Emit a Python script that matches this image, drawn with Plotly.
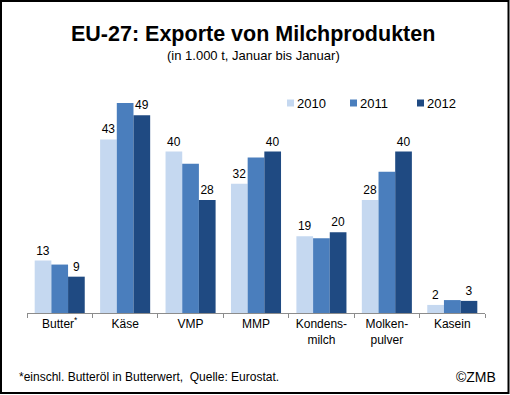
import plotly.graph_objects as go

categories = ["Butter<sup>*</sup>", "Käse", "VMP", "MMP", "Kondens-<br>milch", "Molken-<br>pulver", "Kasein"]
years = ["2010", "2011", "2012"]
v2010 = [13, 43, 40, 32, 19, 28, 2]
v2011 = [12, 52, 37, 38.5, 18.5, 35, 3.2]
v2012 = [9, 49, 28, 40, 20, 40, 3]
show_labels = [True, False, True]
colors = ["#c5d8f0", "#4a7ebd", "#1f4a82"]

FONT = "Liberation Sans, Arial, sans-serif"

# layout geometry (pixels)
W, H = 510, 395
ML, MR, MT, MB = 27, 25, 95, 82
pw, ph = W - ML - MR, H - MT - MB

def px_x(x):
    return (x - ML) / pw

def px_y(y):
    return (H - MB - y) / ph

fig = go.Figure()
for name, vals, lab, col in zip(years, [v2010, v2011, v2012], show_labels, colors):
    kw = {}
    if lab:
        kw = dict(text=[f"{v:g}" for v in vals], textposition="outside",
                  textfont=dict(family=FONT, size=12, color="black"))
    fig.add_trace(go.Bar(
        x=categories, y=vals, name=name,
        marker=dict(color=col, line=dict(width=0)),
        cliponaxis=False, **kw,
    ))

fig.update_layout(
    width=W, height=H,
    margin=dict(l=ML, r=MR, t=MT, b=MB, autoexpand=False),
    paper_bgcolor="white", plot_bgcolor="white",
    barmode="group", bargap=0.235, bargroupgap=0,
    font=dict(family=FONT, size=12, color="black"),
    showlegend=False,
    xaxis=dict(showline=True, linecolor="#8c8c8c", linewidth=1, ticks="outside",
               tickson="boundaries", ticklen=4, tickcolor="#8c8c8c",
               tickfont=dict(family=FONT, size=12, color="black"), showgrid=False,
               automargin=False),
    yaxis=dict(range=[0, 54], visible=False, showgrid=False, zeroline=False),
)

# manual legend (squares + labels)
legend_x = [287, 350, 417]
for name, col, lx in zip(years, colors, legend_x):
    fig.add_shape(type="rect", xref="paper", yref="paper",
                  x0=px_x(lx), x1=px_x(lx + 7), y0=px_y(106.5), y1=px_y(99.5),
                  line=dict(width=0), fillcolor=col)
    fig.add_annotation(text=name, xref="paper", yref="paper",
                       x=px_x(lx + 8), y=px_y(103), xanchor="left", yanchor="middle",
                       showarrow=False, font=dict(family=FONT, size=13, color="black"))

fig.add_annotation(text="<b>EU-27: Exporte von Milchprodukten</b>", xref="paper", yref="paper",
                   x=px_x(253), y=px_y(34), xanchor="center", yanchor="middle", showarrow=False,
                   font=dict(family=FONT, size=21.5, color="black"))
fig.add_annotation(text="(in 1.000 t, Januar bis Januar)", xref="paper", yref="paper",
                   x=px_x(253), y=px_y(55), xanchor="center", yanchor="middle", showarrow=False,
                   font=dict(family=FONT, size=13, color="black"))
fig.add_annotation(text="*einschl. Butteröl in Butterwert,  Quelle: Eurostat.", xref="paper", yref="paper",
                   x=px_x(17), y=px_y(377), xanchor="left", yanchor="middle", showarrow=False,
                   font=dict(family=FONT, size=12, color="black"))
fig.add_annotation(text="©ZMB", xref="paper", yref="paper",
                   x=px_x(498), y=px_y(377), xanchor="right", yanchor="middle", showarrow=False,
                   font=dict(family=FONT, size=14, color="black"))

fig.add_shape(type="rect", xref="paper", yref="paper",
              x0=px_x(1), x1=px_x(508.5), y0=px_y(393), y1=px_y(1),
              line=dict(color="black", width=2), fillcolor="rgba(0,0,0,0)", layer="above")

fig.write_html("out.html", config={"displayModeBar": False},
               post_script="document.body.style.margin='0px';document.body.style.overflow='hidden';")
